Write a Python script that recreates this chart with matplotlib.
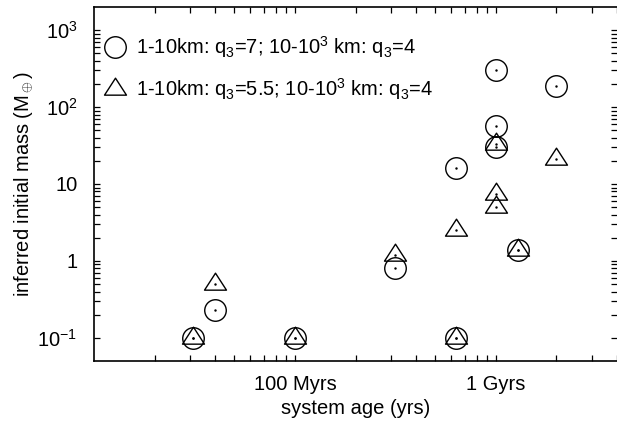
import numpy as np
import matplotlib
matplotlib.use("Agg")
import matplotlib.pyplot as plt
from matplotlib.path import Path
from matplotlib.ticker import FixedLocator, LogLocator, NullFormatter

plt.rcParams['font.family'] = ['Liberation Sans', 'DejaVu Sans']
plt.rcParams['mathtext.fontset'] = 'custom'
plt.rcParams['mathtext.rm'] = 'Liberation Sans'
plt.rcParams['mathtext.it'] = 'Liberation Sans'

# system age (yrs) and inferred initial mass (M_earth)
age_q7 = [3.1e7, 4.0e7, 1.0e8, 3.16e8, 6.3e8, 6.3e8, 1.0e9, 1.0e9, 1.0e9, 1.28e9, 2.0e9]
mass_q7 = [0.1, 0.23, 0.1, 0.8, 0.1, 16, 300, 56, 30, 1.4, 190]

age_q55 = [3.1e7, 4.0e7, 1.0e8, 3.16e8, 6.3e8, 6.3e8, 1.0e9, 1.0e9, 1.0e9, 1.28e9, 2.0e9]
mass_q55 = [0.1, 0.5, 0.1, 1.2, 0.1, 2.5, 33, 7.5, 5, 1.4, 21]

label_q7 = r'1-10km: q$_3$=7; 10-10$^3$ km: q$_3$=4'
label_q55 = r'1-10km: q$_3$=5.5; 10-10$^3$ km: q$_3$=4'

xticks = [1e8, 1e9]
xticklabels = ['100 Myrs', '1 Gyrs']
yticks = [0.1, 1, 10, 100, 1000]
yticklabels = [r'10$^{-1}$', '1', '10', r'10$^2$', r'10$^3$']

fs = 14.5

# flat triangle centred on its centroid
w, h = 22.0, 17.0
tri = Path([(0, 2 * h / 3), (-w / 2, -h / 3), (w / 2, -h / 3), (0, 2 * h / 3)],
           [Path.MOVETO, Path.LINETO, Path.LINETO, Path.CLOSEPOLY])

fig = plt.figure(figsize=(6.17, 4.25), dpi=100)
ax = fig.add_axes([94 / 617, 1 - 361 / 425, 1 - 94 / 617, (361 - 7) / 425])

ax.plot(age_q7, mass_q7, ls='none', marker='o', ms=15.5, mfc='none', mec='black',
        mew=1.0, label=label_q7)
ax.plot(age_q55, mass_q55, ls='none', marker=tri, ms=16.3, mfc='none', mec='black',
        mew=1.0, label=label_q55)
# little centre dots
ax.plot(age_q7, mass_q7, ls='none', marker='.', ms=1.5, color='black')
ax.plot(age_q55, mass_q55, ls='none', marker='.', ms=1.5, color='black')

ax.set_xscale('log')
ax.set_yscale('log')
ax.set_xlim(1e7, 4e9)
ax.set_ylim(0.05, 2000)

ax.set_xticks(xticks)
ax.set_xticklabels(xticklabels)
ax.xaxis.set_minor_locator(LogLocator(base=10, subs=np.arange(2, 10)))
ax.xaxis.set_minor_formatter(NullFormatter())
ax.set_yticks(yticks)
ax.set_yticklabels(yticklabels)
ax.yaxis.set_minor_locator(FixedLocator([m * 10.0 ** e for e in range(-1, 3) for m in range(2, 10)]))
ax.yaxis.set_minor_formatter(NullFormatter())

ax.tick_params(which='both', direction='in', top=True, right=True, length=4, width=0.9,
               labelsize=fs)
ax.tick_params(axis='x', which='major', pad=10)
ax.tick_params(axis='y', which='major', pad=12)

for s in ['left', 'top', 'bottom']:
    ax.spines[s].set_linewidth(1.2)
ax.spines['right'].set_visible(False)

ax.set_xlabel('system age (yrs)', fontsize=fs, labelpad=4)
ax.set_ylabel(r'inferred initial mass (M$_\oplus$)', fontsize=fs, labelpad=2)

ax.legend(loc='upper left', bbox_to_anchor=(104 / 617, 1 - 34 / 425),
          bbox_transform=fig.transFigure, frameon=False, fontsize=fs,
          handlelength=1.05, handletextpad=0.55, borderpad=0, borderaxespad=0,
          labelspacing=0.8)

fig.savefig('out.png', dpi=100)
